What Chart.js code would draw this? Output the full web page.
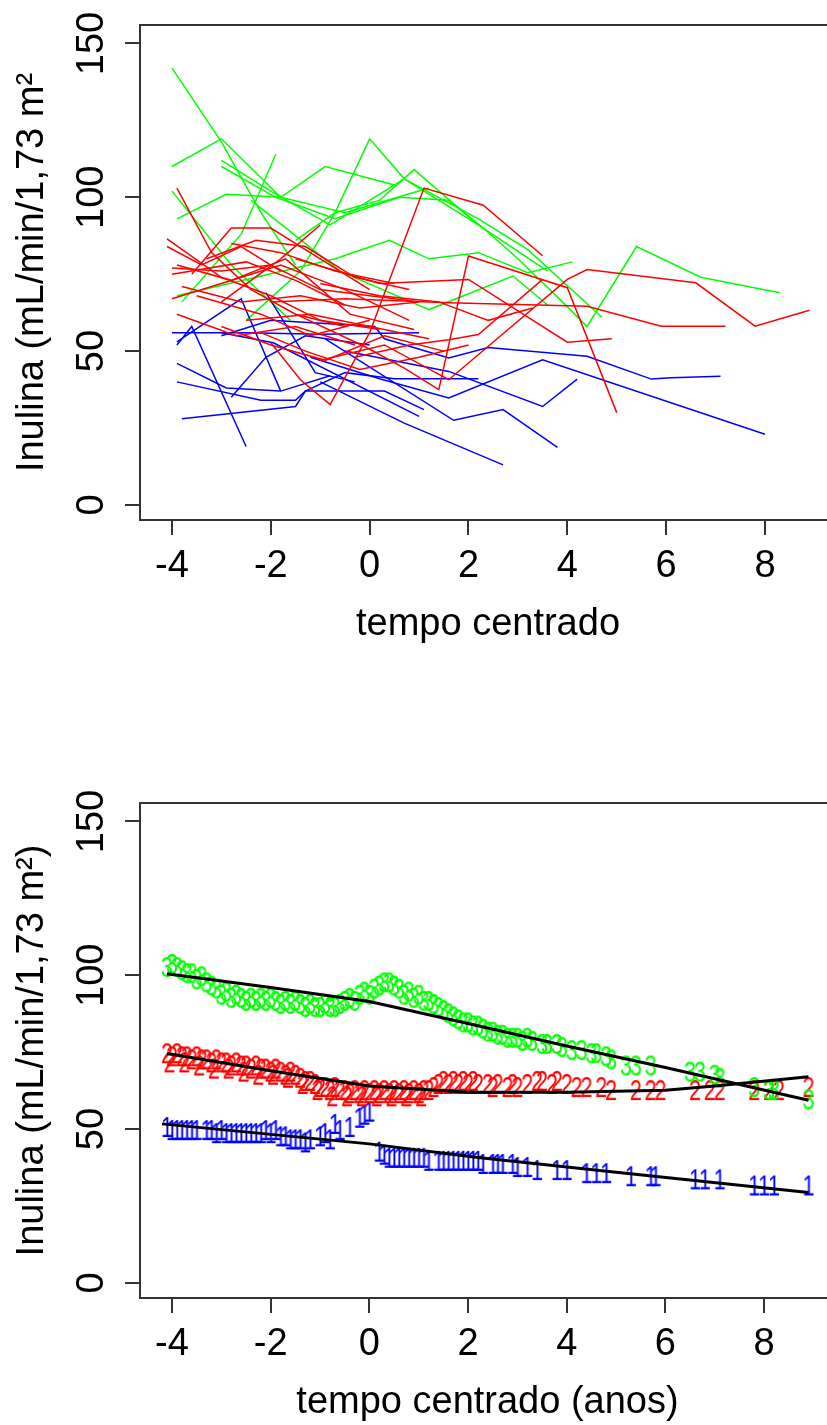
<!DOCTYPE html>
<html>
<head>
<meta charset="utf-8">
<script src="https://cdn.jsdelivr.net/npm/chart.js@4"></script>
<style>
  html, body { margin: 0; padding: 0; background: #fff; width: 827px; height: 1425px; overflow: hidden; }
  canvas { display: block; }
</style>
</head>
<body>
<canvas id="perfis" width="840" height="712"></canvas>
<canvas id="ajuste" width="840" height="713"></canvas>
<script>
// eixos
const ticksX = [-4, -2, 0, 2, 4, 6, 8];
const ticksY = [0, 50, 100, 150];

// perfis individuais, grupo 3 (verde)
const grupo3X = [
  [-4.0, -3.0, -2.2, -1.5],
  [-4.0, -3.0, -1.8, -0.9, 0.5],
  [-3.0, -2.0, -0.8, 0.7, 2.2, 3.6],
  [-3.0, -1.9, -0.7, 0.6, 1.6, 2.3, 3.0, 3.9, 4.4, 5.4, 6.7, 8.3],
  [-3.8, -2.6, -1.9],
  [-4.0, -2.8, -1.6],
  [-3.9, -2.9, -1.8, -0.5, 1.2],
  [-2.5, -1.4, -0.7, 0.0, 0.7, 2.2, 3.2, 4.7],
  [-1.5, -0.7, 0.2, 0.9, 2.2],
  [-3.9, -0.7, 0.4, 1.2, 2.2, 3.2, 4.1],
  [-2.4, -0.6, 1.2, 2.9, 3.6]
];
const grupo3Y = [
  [142, 118, 95, 78],
  [110, 119, 100, 110, 104],
  [112, 102, 91, 106, 91, 76],
  [110, 100, 93, 100, 99, 90, 80, 66, 58, 84, 74, 69],
  [66, 88, 114],
  [102, 78, 60],
  [93, 101, 100, 95, 103],
  [60, 76, 95, 119, 106, 93, 83, 61],
  [86, 95, 99, 109, 91],
  [68, 80, 86, 80, 82, 75.5, 79],
  [99, 76, 63.5, 74.4, 65]
];

// grupo 2 (vermelho)
const grupo2X = [
  [-2.0, -0.5, 1.6, 4.4, 5.9, 7.2],
  [-1.0, 0.3, 1.6, 4.0, 4.4, 6.6, 7.8, 8.9],
  [-1.5, -0.1, 0.7, 1.4, 2.0, 4.0, 5.0],
  [-2.0, -1.4, -0.8, 0.0, 1.1, 2.3, 3.5],
  [-1.5, 0.2, 2.0, 4.0, 4.9],
  [-0.3, 0.8, 1.6, 2.2, 3.5],
  [-3.9, -3.2, -2.4, -1.5, -0.5],
  [-4.1, -3.0, -2.0, -1.0, 0.2],
  [-3.6, -2.8, -2.0, -1.0, 0.0],
  [-3.0, -1.8, -1.0],
  [-4.0, -3.0, -2.0, -1.0, 0.0, 1.0],
  [-4.0, -2.5, -1.5, -0.5],
  [-3.9, -2.8, -1.7, -0.4, 0.9],
  [-4.0, -3.0, -1.8, -0.5, 0.8],
  [-3.9, -2.7, -1.5, -0.3],
  [-3.0, -2.0, -0.9, 0.3, 1.5],
  [-2.5, -1.2, 0.0, 1.2],
  [-4.1, -3.4, -2.6, -1.8],
  [-3.8, -2.6, -1.4, -0.2, 1.0],
  [-2.8, -1.8, -0.7, 0.5],
  [-3.5, -2.2, -1.2, 0.0],
  [-1.0, 0.2, 1.4, 2.4, 3.3],
  [-3.3, -2.3, -1.3, -0.3, 0.8],
  [-2.2, -1.3, -0.2, 1.0, 2.0]
];
const grupo2Y = [
  [66, 67, 65.7, 64.6, 58.1, 58.1],
  [47, 52, 40.7, 73.3, 76.5, 72.2, 58.1, 63.3],
  [62, 51.5, 44.5, 37.5, 80.9, 70.6, 30],
  [52.7, 40.7, 32.6, 56, 103, 97.4, 81],
  [80, 72, 73.3, 52.9, 54],
  [48, 52, 53.7, 55.4, 73.3],
  [103, 82, 70, 62, 58],
  [86.5, 74, 68, 60, 57],
  [75, 90, 90, 80, 70],
  [66, 80, 91],
  [77, 76, 78, 70, 68, 66],
  [75, 79, 73, 65],
  [78, 73, 80, 62, 57],
  [67, 72, 78, 70, 60],
  [62, 55, 58, 52],
  [58, 52, 47, 55, 50],
  [60, 62, 58, 54],
  [84, 78, 84, 76],
  [71, 66, 68, 64, 66],
  [85, 82, 76, 72],
  [68, 62, 55, 60],
  [72, 68, 66, 60, 64],
  [80, 86, 84, 74, 70],
  [56, 50, 44, 48, 52]
];

// grupo 1 (azul)
const grupo1X = [
  [-4.0, -2.5, -1.0, 1.0],
  [-3.9, -2.6, -1.8],
  [-3.9, -3.6, -2.5],
  [-3.9, -2.9, -1.8, -0.8],
  [-3.9, -2.2, -1.5, -1.3, 0.3, 1.1],
  [-3.8, -1.5, -1.3, -0.5, 0.5, 2.2],
  [-2.8, -2.1, -1.3, 0.0],
  [-2.1, -1.1, -0.3],
  [-3.0, -2.0, 0.1, 0.3, 1.6, 2.4, 4.4, 5.7, 6.1, 7.1],
  [-3.0, -1.95, 1.0],
  [-0.9, 1.7, 2.7, 3.8],
  [-1.0, 0.7, 2.7],
  [-1.2, 0.2, 1.6, 3.5, 8.0],
  [-0.5, 1.6, 3.5, 4.2]
];
const grupo1Y = [
  [56, 56, 55.5, 56],
  [53, 67, 37],
  [52, 58, 19],
  [46, 38, 37, 42],
  [40, 34, 34, 37, 37, 31],
  [28, 32, 37, 43, 41, 41],
  [35, 48, 55, 52],
  [69, 43, 40],
  [55, 60, 58, 54, 47.8, 51.2, 48.3, 40.9, 41.3, 41.8],
  [56, 52.7, 28.8],
  [54, 27.5, 31, 18.7],
  [40, 26.6, 13],
  [48, 41, 34.8, 47.2, 23],
  [50, 43.4, 32, 40.9]
];

// valores ajustados (caracteres) e curvas medias
const ajuste3X = [-4.1, -4.0, -3.9, -3.8, -3.7, -3.6, -3.5, -3.4, -3.3, -3.2, -3.1, -3.0, -2.9, -2.8, -2.7, -2.6, -2.5, -2.4, -2.3, -2.2, -2.1, -2.0, -1.9, -1.8, -1.7, -1.6, -1.5, -1.4, -1.3, -1.2, -1.1, -1.0, -0.9, -0.8, -0.7, -0.6, -0.5, -0.4, -0.3, -0.2, -0.1, 0.0, 0.1, 0.2, 0.3, 0.4, 0.5, 0.6, 0.7, 0.8, 0.9, 1.0, 1.1, 1.2, 1.3, 1.4, 1.5, 1.6, 1.7, 1.8, 1.9, 2.0, 2.1, 2.2, 2.3, 2.4, 2.5, 2.6, 2.7, 2.8, 2.9, 3.0, 3.1, 3.2, 3.3, 3.5, 3.6, 3.8, 3.9, 4.1, 4.3, 4.5, 4.6, 4.8, 4.9, 5.2, 5.4, 5.7, 6.5, 6.7, 7.0, 7.1, 7.8, 8.1, 8.2, 8.9];
const ajuste3Y = [103, 104, 103, 102, 101, 101, 99, 100, 98, 97, 96, 94, 95, 93, 94, 93, 92, 93, 92, 93, 92, 93, 92, 91, 92, 91, 92, 91, 90, 91, 90, 90, 91, 90, 90, 91, 92, 93, 92, 94, 95, 94, 96, 97, 98, 98, 97, 96, 94, 95, 93, 94, 92, 92, 91, 90, 89, 88, 87, 86, 85, 85, 84, 84, 83, 82, 82, 81, 81, 80, 80, 80, 79, 80, 79, 78, 78, 78, 77, 76, 76, 75, 75, 74, 73, 71, 71, 71, 69, 69, 68, 67, 64, 63, 63, 60];
const ajuste2X = [-4.1, -4.0, -3.9, -3.8, -3.7, -3.6, -3.5, -3.4, -3.3, -3.2, -3.1, -3.0, -2.9, -2.8, -2.7, -2.6, -2.5, -2.4, -2.3, -2.2, -2.1, -2.0, -1.9, -1.8, -1.7, -1.6, -1.5, -1.4, -1.3, -1.2, -1.1, -1.0, -0.9, -0.8, -0.7, -0.6, -0.5, -0.4, -0.3, -0.2, -0.1, 0.0, 0.1, 0.2, 0.3, 0.4, 0.5, 0.6, 0.7, 0.8, 0.9, 1.0, 1.1, 1.2, 1.3, 1.4, 1.5, 1.6, 1.7, 1.8, 1.9, 2.0, 2.1, 2.2, 2.4, 2.5, 2.6, 2.8, 2.9, 3.0, 3.2, 3.4, 3.5, 3.7, 3.8, 4.0, 4.2, 4.4, 4.7, 4.9, 5.4, 5.7, 5.9, 6.6, 6.9, 7.1, 7.8, 8.1, 8.3, 8.9,
  -4.05, -3.75, -3.45, -3.15, -2.85, -2.55, -2.25, -1.95, -1.65, -1.35, -1.05, -0.75, -0.45, -0.15, 0.15, 0.45, 0.75, 1.05];
const ajuste2Y = [75, 74, 75, 74, 74, 73, 74, 73, 73, 72, 73, 72, 72, 71, 72, 71, 71, 70, 71, 70, 70, 69, 70, 69, 68, 69, 68, 67, 66, 66, 65, 64, 64, 63, 64, 63, 63, 62, 63, 62, 63, 62, 63, 62, 63, 62, 63, 62, 63, 62, 63, 62, 63, 63, 64, 65, 66, 65, 66, 65, 66, 65, 66, 65, 65, 64, 65, 64, 65, 64, 65, 66, 66, 65, 66, 65, 64, 64, 64, 63, 63, 63, 63, 63, 63, 63, 63, 63, 63, 64,
  72, 72, 71, 70, 70, 69, 68, 68, 67, 65, 63, 61, 61, 61, 61, 61, 61, 61];
const ajuste1X = [-4.1, -4.0, -3.9, -3.8, -3.7, -3.6, -3.5, -3.3, -3.2, -3.1, -3.0, -2.9, -2.8, -2.7, -2.6, -2.5, -2.4, -2.3, -2.2, -2.1, -2.0, -1.9, -1.8, -1.7, -1.6, -1.5, -1.4, -1.3, -1.2, -1.0, -0.9, -0.8, -0.7, -0.6, -0.4, -0.2, -0.1, 0.0, 0.2, 0.3, 0.4, 0.5, 0.6, 0.7, 0.8, 0.9, 1.0, 1.1, 1.2, 1.4, 1.5, 1.6, 1.7, 1.8, 1.9, 2.0, 2.1, 2.2, 2.3, 2.5, 2.6, 2.7, 2.9, 3.0, 3.2, 3.4, 3.8, 4.0, 4.4, 4.6, 4.8, 5.3, 5.7, 5.8, 6.6, 6.8, 7.1, 7.8, 8.0, 8.2, 8.9];
const ajuste1Y = [51, 50, 50, 50, 50, 50, 50, 50, 50, 49, 50, 49, 49, 49, 49, 49, 49, 49, 49, 50, 49, 50, 48, 48, 47, 47, 47, 46, 47, 48, 49, 47, 52, 50, 51, 54, 55, 56, 43, 42, 41, 41, 41, 41, 41, 41, 41, 41, 40, 40, 40, 40, 40, 40, 40, 40, 40, 40, 39, 39, 39, 39, 39, 38, 38, 37, 37, 37, 36, 36, 36, 35, 35, 35, 34, 34, 34, 32, 32, 32, 32];

const media3X = [-4.1, -2.0, 0.0, 2.0, 4.0, 6.0, 8.9];
const media3Y = [100.5, 96, 91.5, 84.3, 77, 70, 59.4];
const media2X = [-4.1, -2.0, 0.0, 2.0, 4.0, 6.0, 7.0, 8.9];
const media2Y = [74.6, 69, 64, 62, 62, 62.6, 64, 67];
const media1X = [-4.2, 0.0, 2.2, 5.0, 8.9];
const media1Y = [51.7, 45.2, 40.8, 36, 29.4];

const VERDE = '#00ff00', VERMELHO = '#ff0000', AZUL = '#0000ff';
const FONTE = '"Liberation Sans", Arial, sans-serif';

function pontos(xs, ys) {
  return xs.map((v, i) => ({ x: v, y: ys[i] }));
}

function perfis(xs, ys, cor) {
  return xs.map((xv, i) => ({
    data: pontos(xv, ys[i]),
    borderColor: cor,
    borderWidth: 1.5,
    pointRadius: 0,
    showLine: true,
    fill: false
  }));
}

// caractere usado como simbolo do ponto (um pouco estreitado, como no original)
function glifo(ch, cor) {
  const c = document.createElement('canvas');
  c.width = 22;
  c.height = 34;
  const g = c.getContext('2d');
  g.fillStyle = cor;
  g.textAlign = 'center';
  g.textBaseline = 'alphabetic';
  g.translate(11, 0);
  g.scale(0.72, 1);
  g.font = '30px ' + FONTE;
  g.fillText(ch, 0, 17 + 0.716 * 30 / 2);
  return c;
}

// caixa, marcas e rotulos no estilo do R
const eixosR = {
  id: 'eixosR',
  afterDraw(chart, args, opts) {
    const { ctx, chartArea: a } = chart;
    const x = chart.scales.x, y = chart.scales.y;
    ctx.save();
    ctx.strokeStyle = '#333';
    ctx.lineWidth = 2;
    ctx.strokeRect(a.left, a.top, a.right - a.left, a.bottom - a.top);
    ctx.beginPath();
    ticksX.forEach(v => {
      const p = Math.round(x.getPixelForValue(v));
      ctx.moveTo(p, a.bottom);
      ctx.lineTo(p, a.bottom + 15);
    });
    ticksY.forEach(v => {
      const p = Math.round(y.getPixelForValue(v));
      ctx.moveTo(a.left, p);
      ctx.lineTo(a.left - 15, p);
    });
    ctx.stroke();

    ctx.fillStyle = '#000';
    ctx.font = '38px ' + FONTE;
    ctx.textAlign = 'center';
    ctx.textBaseline = 'alphabetic';
    ticksX.forEach(v => ctx.fillText(String(v), x.getPixelForValue(v), a.bottom + 57));
    ctx.fillText(opts.tituloX, (a.left + a.right) / 2, a.bottom + 115);
    ticksY.forEach(v => {
      ctx.save();
      ctx.translate(a.left - 37, y.getPixelForValue(v));
      ctx.rotate(-Math.PI / 2);
      ctx.fillText(String(v), 0, 0);
      ctx.restore();
    });
    ctx.save();
    ctx.translate(43, (a.top + a.bottom) / 2);
    ctx.rotate(-Math.PI / 2);
    ctx.fillText(opts.tituloY, 0, 0);
    ctx.restore();
    ctx.restore();
  }
};

function opcoes(topo, alturaX, tituloX, tituloY) {
  return {
    responsive: false,
    animation: false,
    devicePixelRatio: 1,
    events: [],
    layout: { padding: { top: topo, right: 4, left: 0, bottom: 0 } },
    plugins: {
      legend: { display: false },
      tooltip: { enabled: false },
      eixosR: { tituloX: tituloX, tituloY: tituloY }
    },
    scales: {
      x: {
        type: 'linear', min: -4.647, max: 9.437,
        ticks: { display: false }, grid: { display: false }, border: { display: false },
        afterFit: s => { s.height = alturaX; }
      },
      y: {
        type: 'linear', min: -4.9, max: 156,
        ticks: { display: false }, grid: { display: false }, border: { display: false },
        afterFit: s => { s.width = 140; }
      }
    }
  };
}

new Chart(document.getElementById('perfis'), {
  type: 'scatter',
  data: {
    datasets: [
      ...perfis(grupo2X, grupo2Y, VERMELHO),
      ...perfis(grupo1X, grupo1Y, AZUL),
      ...perfis(grupo3X, grupo3Y, VERDE)
    ]
  },
  options: opcoes(25, 192, 'tempo centrado', 'Inulina (mL/min/1,73 m\u00b2'),
  plugins: [eixosR]
});

function media(xs, ys) {
  return { data: pontos(xs, ys), borderColor: '#000', borderWidth: 3, pointRadius: 0, showLine: true, fill: false, order: 0 };
}

function simbolos(xs, ys, ch, cor) {
  return { data: pontos(xs, ys), pointStyle: glifo(ch, cor), pointRadius: 3, showLine: false, order: 1 };
}

new Chart(document.getElementById('ajuste'), {
  type: 'scatter',
  data: {
    datasets: [
      media(media3X, media3Y),
      media(media2X, media2Y),
      media(media1X, media1Y),
      simbolos(ajuste3X, ajuste3Y, '3', VERDE),
      simbolos(ajuste2X, ajuste2Y, '2', VERMELHO),
      simbolos(ajuste1X, ajuste1Y, '1', AZUL)
    ]
  },
  options: opcoes(91, 127, 'tempo centrado (anos)', 'Inulina (mL/min/1,73 m\u00b2)'),
  plugins: [eixosR]
});
</script>
</body>
</html>
